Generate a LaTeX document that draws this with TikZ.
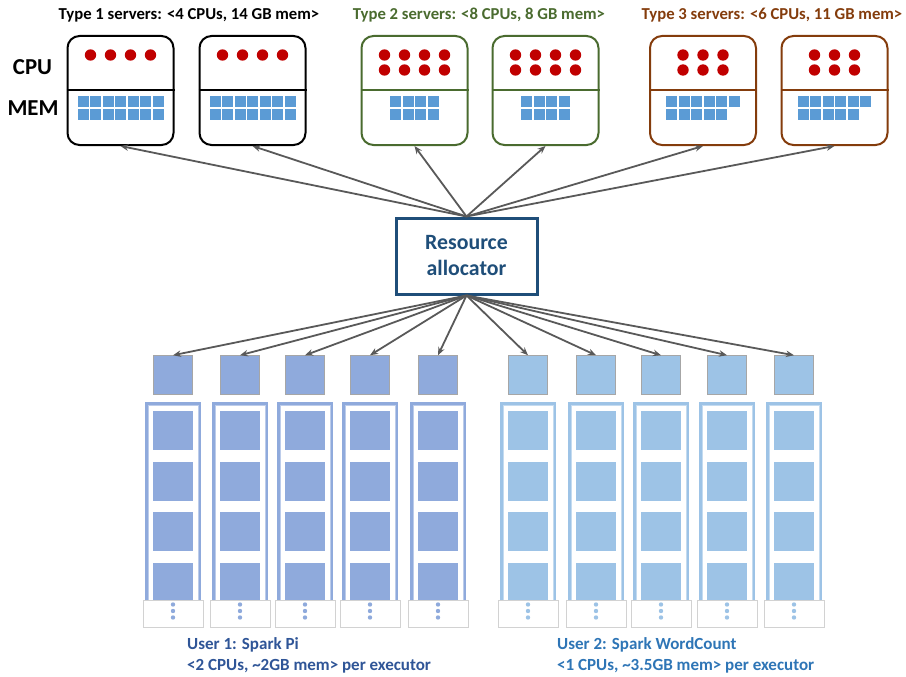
\documentclass[tikz,border=0pt]{standalone}
\usepackage{fontspec}
\setmainfont{Carlito}
\usetikzlibrary{arrows.meta,calc}
\definecolor{cpured}{HTML}{C00000}
\definecolor{memblue}{HTML}{5B9BD5}
\definecolor{typeone}{HTML}{000000}
\definecolor{typetwo}{HTML}{4A6B2F}
\definecolor{typethree}{HTML}{843C0C}
\definecolor{allocblue}{HTML}{1F4E79}
\definecolor{userone}{HTML}{8FAADC}
\definecolor{usertwo}{HTML}{9DC3E6}
\definecolor{useronetext}{HTML}{2F5597}
\definecolor{usertwotext}{HTML}{2E75B6}
\definecolor{arrgrey}{HTML}{595959}
\def\cpudot{\fill[cpured]}
\def\memcell{\fill[memblue]}
\def\servernode{\node[server]}
% one executor column: name, x position, colour
\def\execcol#1#2#3{%
  \node[execcell,fill=#3] (#1) at (#2,375) {}; % the executor being placed
  \fill[#3] (#2-28,402) rectangle (#2+28,601);
  \filldraw[fill=white,draw=#3!60,line width=0.5pt] (#2-25,405) rectangle (#2+25,601);
  \foreach \k in {0,...,3} \fill[#3] (#2-20,411+50.5*\k) rectangle +(40,39);
  \node[dotbox] (#1dots) at (#2,613.5) {};
  \foreach \k in {0,1,2} \fill[#3] (#2,604.5+6.5*\k) circle (2.2pt);
}

\begin{document}
\begin{tikzpicture}[x=1pt,y=-1pt,
  server/.style={draw,rounded corners=12pt,line width=2pt,minimum width=106pt,minimum height=109pt,inner sep=0pt},
  title/.style={font=\fontsize{16.7}{19}\selectfont\bfseries},
  sidelabel/.style={font=\fontsize{22.8}{26}\selectfont\bfseries},
  arr/.style={arrgrey,line width=1.8pt,-{Stealth[length=8pt,width=6.5pt]}},
  execcell/.style={draw=gray!70,line width=0.5pt,minimum size=39pt,inner sep=0pt},
  dotbox/.style={draw=gray!35,line width=0.6pt,fill=white,minimum width=60pt,minimum height=27pt,inner sep=0pt}]
\useasboundingbox (0,0) rectangle (906,677);

% ---------- server types on top
\node[title,text=typeone] (t1) at (189,15) {Type 1 servers: <4 CPUs, 14 GB mem>};
\node[title,text=typetwo] (t2) at (479,15) {Type 2 servers: <8 CPUs, 8 GB mem>};
\node[title,text=typethree] (t3) at (772,15) {Type 3 servers: <6 CPUs, 11 GB mem>};
\node[sidelabel] (cpu) at (32.5,67) {CPU};
\node[sidelabel] (mem) at (33,108) {MEM};

% -------- type 1 ---------
\servernode[draw=typeone] (s1) at (120.5,90.5) {};
\servernode[draw=typeone] (s2) at (252.5,90.5) {};
\foreach \s in {s1,s2} {
  \draw[typeone,line width=2pt] (\s.west) -- (\s.east);
  \foreach \i in {-1.5,-0.5,0.5,1.5} \cpudot ($(\s)+(20*\i,-35.5)$) circle (5.7pt);
  \foreach \i in {-3,...,3} {
    \memcell ($(\s)+(12.5*\i-5.5,5.5)$) rectangle +(11,11);
    \memcell ($(\s)+(12.5*\i-5.5,19)$) rectangle +(11,11);
  }
}

% -------- type 2 ---------
\servernode[draw=typetwo] (s3) at (414.5,90.5) {};
\servernode[draw=typetwo] (s4) at (545.5,90.5) {};
\foreach \s in {s3,s4} {
  \draw[typetwo,line width=2pt] (\s.west) -- (\s.east);
  \foreach \i in {-1.5,-0.5,0.5,1.5} {
    \cpudot ($(\s)+(20*\i,-35.5)$) circle (5.7pt);
    \cpudot ($(\s)+(20*\i,-20.5)$) circle (5.7pt);
    \memcell ($(\s)+(12.5*\i-5.5,5.5)$) rectangle +(11,11);
    \memcell ($(\s)+(12.5*\i-5.5,19)$) rectangle +(11,11);
  }
}

% -------- type 3 ---------
\servernode[draw=typethree] (s5) at (703,90.5) {};
\servernode[draw=typethree] (s6) at (834.5,90.5) {};
\foreach \s in {s5,s6} {
  \draw[typethree,line width=2pt] (\s.west) -- (\s.east);
  \foreach \i in {-1,0,1} {
    \cpudot ($(\s)+(20*\i,-35.5)$) circle (5.7pt);
    \cpudot ($(\s)+(20*\i,-20.5)$) circle (5.7pt);
  }
  \foreach \i in {-2.5,-1.5,-0.5,0.5,1.5,2.5} \memcell ($(\s)+(12.5*\i-5.5,5.5)$) rectangle +(11,11);
  \foreach \i in {-2.5,-1.5,-0.5,0.5,1.5} \memcell ($(\s)+(12.5*\i-5.5,19)$) rectangle +(11,11);
}

% ---------- the allocator in the middle
\node[draw=allocblue,line width=3pt,minimum width=141pt,minimum height=76pt,align=center,
  text=allocblue,font=\fontsize{21.8}{26}\selectfont\bfseries] (alloc) at (466.5,256) {Resource\\allocator};

\foreach \s in {s1,s2,s3,s4,s5,s6} \draw[arr] (alloc.north) -- (\s.south);

% -------- user 1 executors ---------
\execcol{e1}{173}{userone}
\execcol{e2}{240}{userone}
\execcol{e3}{305}{userone}
\execcol{e4}{370}{userone}
\execcol{e5}{438}{userone}
% -------- user 2 executors ---------
\execcol{e6}{528}{usertwo}
\execcol{e7}{596}{usertwo}
\execcol{e8}{661}{usertwo}
\execcol{e9}{727}{usertwo}
\execcol{e10}{794}{usertwo}

\foreach \e in {e1,e2,e3,e4,e5,e6,e7,e8,e9,e10} \draw[arr] (alloc.south) -- (\e.north);

\node[anchor=west,align=left,inner sep=0pt,text=useronetext,font=\fontsize{17}{21}\selectfont\bfseries] (u1) at (187,655.5)
  {User 1: Spark Pi\\<2 CPUs, \textasciitilde2GB mem> per executor};
\node[anchor=west,align=left,inner sep=0pt,text=usertwotext,font=\fontsize{17}{21}\selectfont\bfseries] (u2) at (557,655.5)
  {User 2: Spark WordCount\\<1 CPUs, \textasciitilde3.5GB mem> per executor};
\end{tikzpicture}
\end{document}
